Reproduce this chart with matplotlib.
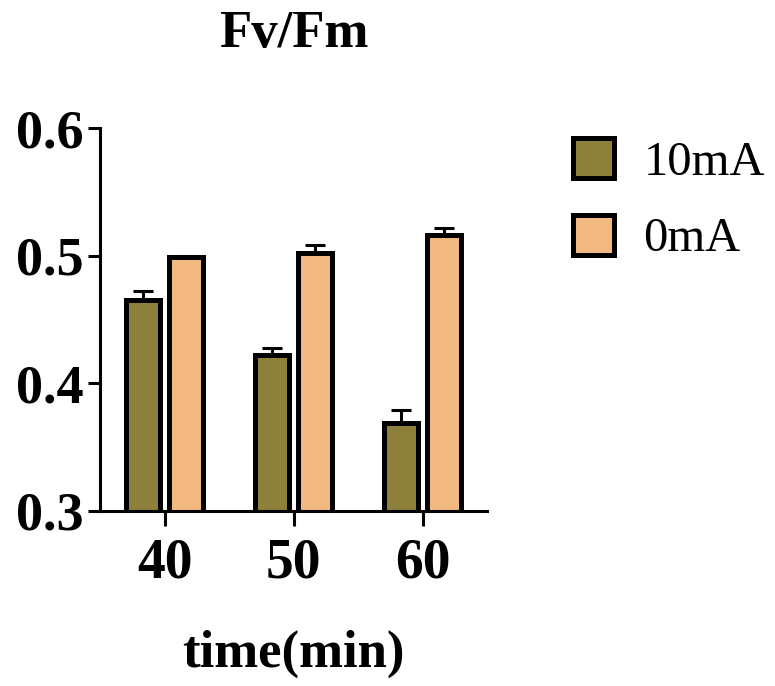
import numpy as np
import matplotlib
matplotlib.use("Agg")
import matplotlib.pyplot as plt

times = ["40", "50", "60"]
series = ["10mA", "0mA"]
vals_10 = [0.465, 0.422, 0.369]
err_10 = [0.007, 0.006, 0.010]
vals_0 = [0.499, 0.502, 0.516]
err_0 = [0.001, 0.006, 0.006]

olive = "#8C803A"
peach = "#F1B880"

plt.rcParams["font.family"] = ["Liberation Serif", "DejaVu Serif"]

fig = plt.figure(figsize=(7.75, 6.86), dpi=100)
ax = fig.add_axes([100 / 775, 1 - 511 / 686, 387 / 775, 383 / 686])

x = np.arange(len(times))
w = 0.265
off = 0.168
lw = 3.6

for vals, errs, col, sign, lab in [(vals_10, err_10, olive, -1, series[0]),
                                   (vals_0, err_0, peach, 1, series[1])]:
    xs = x + sign * off
    ax.errorbar(xs, vals, yerr=[np.zeros(len(errs)), errs], fmt="none",
                ecolor="black", elinewidth=2.2, capsize=7, capthick=2.2, zorder=1)
    ax.bar(xs, vals, width=w, bottom=0, color=col, edgecolor="black",
           linewidth=lw, label=lab, zorder=2)

ax.set_xlim(-0.5, 2.5)
ax.set_ylim(0.3, 0.6)
ax.set_yticks([0.3, 0.4, 0.5, 0.6])
ax.set_yticklabels(["0.3", "0.4", "0.5", "0.6"])
ax.set_xticks(x)
ax.set_xticklabels(times)

for s in ["top", "right"]:
    ax.spines[s].set_visible(False)
for s in ["left", "bottom"]:
    ax.spines[s].set_linewidth(2.2)

ax.tick_params(axis="y", length=9, width=2.2, pad=3, labelsize=39)
ax.tick_params(axis="x", length=11, width=2.2, pad=8, labelsize=40)
for t in ax.get_xticklabels() + ax.get_yticklabels():
    t.set_fontweight("bold")

ax.set_title("Fv/Fm", fontsize=38, fontweight="bold", pad=58)
ax.set_xlabel("time(min)", fontsize=38, fontweight="bold", labelpad=29)

leg = ax.legend(loc="upper left", bbox_to_anchor=(573 / 775, 1 - 138 / 686),
                bbox_transform=fig.transFigure, frameon=False, fontsize=35,
                handlelength=0.85, handleheight=0.88, handletextpad=0.6,
                labelspacing=0.62, borderpad=0, borderaxespad=0)

fig.savefig("out.png", dpi=100)
